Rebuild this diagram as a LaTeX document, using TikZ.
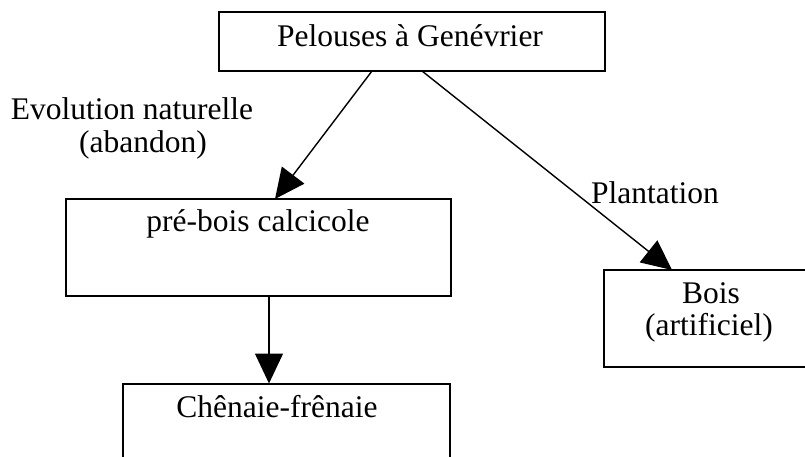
\documentclass[tikz,border=0pt]{standalone}
\usepackage{fontspec}
\setmainfont{Liberation Serif}
\usetikzlibrary{arrows.meta}
\begin{document}
\begin{tikzpicture}[x=1pt,y=-1pt,
  box/.style={draw=black,line width=2pt,rectangle,inner sep=0pt},
  txt/.style={inner sep=0pt,anchor=base,font=\fontsize{31.5}{36}\selectfont},
  conn/.style={draw=black,line width=1.4pt,-{Triangle[length=30pt,width=28pt]}}]
\useasboundingbox (0,0) rectangle (805,457);
\clip (0,0) rectangle (805,457);
\fill[white] (0,0) rectangle (805,457);
% boxes
\node[box,minimum width=386pt,minimum height=59pt] (top) at (412,41.5) {};
\node[box,minimum width=385pt,minimum height=97pt] (pre) at (258.2,247.4) {};
\node[box,minimum width=212pt,minimum height=97pt] (bois) at (710,318.5) {};
\node[box,minimum width=327pt,minimum height=120pt] (chen) at (286.5,443.5) {};
% texts
\node[txt] (ttop) at (410,47) {Pelouses à Genévrier};
\node[txt] (tpre) at (258,231) {pré-bois calcicole};
\node[txt] (tchen) at (277,417) {Chênaie-frênaie};
\node[txt] (tbois1) at (711,303) {Bois};
\node[txt] (tbois2) at (709,335) {(artificiel)};
\node[txt] (lev1) at (132,120) {Evolution naturelle};
\node[txt] (lev2) at (143,153) {(abandon)};
\node[txt] (lpl) at (655,203) {Plantation};
% connector endpoints
\coordinate (a1) at (372,71);
\coordinate (a2) at (275,199);
\coordinate (b1) at (422,71);
\coordinate (b2) at (672,270);
\coordinate (c1) at (269,296);
\coordinate (c2) at (269,383.5);
\draw[conn] (a1) -- (a2);
\draw[conn] (b1) -- (b2);
\draw[conn] (c1) -- (c2);
\end{tikzpicture}
\end{document}
